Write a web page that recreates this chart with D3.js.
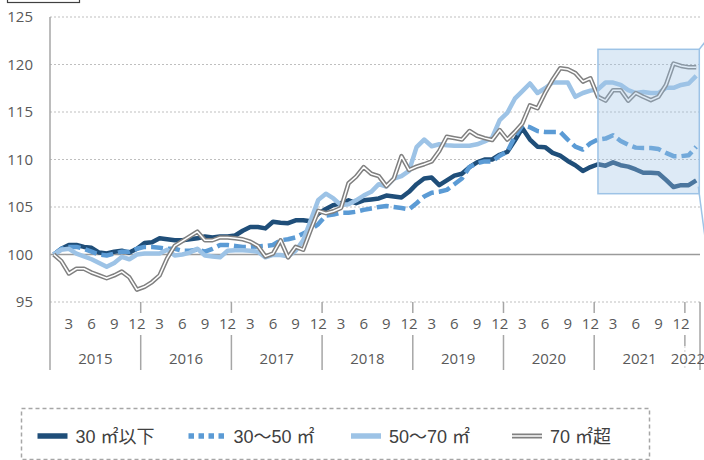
<!DOCTYPE html>
<html>
<head>
<meta charset="utf-8">
<script src="https://cdn.jsdelivr.net/npm/d3@7"></script>
<style>
  body { margin: 0; background: #fff; }
  svg { display: block; }
  .axis text { font-family: "Open Sans", "Liberation Sans", sans-serif; fill: #595959; }
  .legend text { font-family: "Liberation Sans", "Noto Sans CJK JP", sans-serif; fill: #404040; }
</style>
</head>
<body>
<svg id="chart" width="704" height="460"></svg>
<script>
// monthly index, Jan 2015 = 100
const years = [2015, 2016, 2017, 2018, 2019, 2020, 2021, 2022]
const monthsInYear = [12, 12, 12, 12, 12, 12, 12, 2]
const monthTicks = [3, 6, 9, 12]
const yTicks = [95, 100, 105, 110, 115, 120, 125]

const seriesNames = ['30 ㎡以下', '30～50 ㎡', '50～70 ㎡', '70 ㎡超']

const under30 = [
  100.0, 100.6, 101.0, 101.0, 100.8, 100.7, 100.2, 100.1, 100.3, 100.4, 100.2, 100.6,
  101.2, 101.3, 101.7, 101.6, 101.5, 101.5, 101.6, 101.7, 101.9, 101.8, 101.9, 101.9,
  102.0, 102.5, 102.9, 102.9, 102.75, 103.45, 103.35, 103.3, 103.6, 103.6, 103.5, 104.3,
  104.8, 105.2, 105.4, 105.7, 105.4, 105.7, 105.8, 105.9, 106.2, 106.1, 106.0, 106.6,
  107.4, 108.0, 108.1, 107.3, 107.8, 108.3, 108.5, 109.2, 109.7, 110.0, 110.0, 110.5,
  110.8, 112.0, 113.3, 112.1, 111.35, 111.3, 110.7, 110.4, 109.85, 109.4, 108.8, 109.2,
  109.5, 109.35, 109.7, 109.4, 109.25, 108.95, 108.6, 108.6, 108.55, 107.85, 107.1, 107.3,
  107.3, 107.8
]
const from30to50 = [
  100.0, 100.6, 100.8, 100.8, 100.6, 100.3, 100.0, 99.9, 100.1, 100.3, 100.3, 100.6,
  100.8, 100.8, 100.7, 100.6, 100.6, 100.4, 100.4, 100.5, 100.3, 100.6, 101.0, 101.0,
  100.9, 100.8, 100.8, 100.85, 100.9, 101.0, 101.5, 101.6, 101.8, 102.2, 102.6, 103.2,
  104.1, 104.2, 104.4, 104.4, 104.5, 104.7, 104.85, 105.0, 105.1, 105.0, 104.9, 104.75,
  105.4, 106.1, 106.5, 106.6, 106.8, 107.4, 108.0, 109.2, 109.6, 109.8, 109.8, 110.4,
  110.8, 112.4, 113.6, 113.4, 113.0, 112.9, 112.9, 112.9, 112.1, 111.35, 111.05, 111.7,
  112.1, 112.2, 112.55, 111.95, 111.55, 111.25, 111.2, 111.2, 111.1, 110.7, 110.35, 110.35,
  110.45, 111.35
]
const from50to70 = [
  100.0, 100.5, 100.6, 100.1, 99.8, 99.5, 99.1, 98.7, 99.1, 99.75, 99.5, 100.0,
  100.1, 100.1, 100.1, 100.5, 99.9, 100.0, 100.2, 100.6, 99.9, 99.8, 99.7, 100.4,
  100.45, 100.45, 100.4, 100.3, 99.7, 99.95, 99.95, 99.8, 100.4, 101.5, 103.6, 105.75,
  106.4, 105.9, 105.2, 105.3, 105.7, 106.2, 106.6, 107.4, 107.15, 108.0, 108.25, 108.8,
  111.3, 112.1, 111.4, 111.6, 111.5, 111.45, 111.45, 111.45, 111.6, 111.9, 112.3, 114.15,
  114.9, 116.4, 117.2, 118.0, 117.0, 117.5, 118.1, 118.1, 118.1, 116.6, 117.0, 117.25,
  117.4, 118.1, 118.1, 117.85, 117.3, 117.0, 117.1, 117.0, 117.0, 117.55, 117.55, 117.85,
  118.0, 118.8
]
const over70 = [
  100.0, 99.3, 98.0, 98.5, 98.5, 98.1, 97.8, 97.5, 97.8, 98.2, 97.6, 96.3,
  96.6, 97.1, 97.8, 99.6, 100.9, 101.4, 101.9, 102.4, 101.5, 101.5, 101.8, 101.8,
  101.7, 101.6, 101.35, 100.9, 99.8, 100.1, 101.5, 99.7, 100.8, 100.5, 102.6, 104.6,
  104.35, 104.55, 104.9, 107.5, 108.2, 109.2, 108.5, 108.25, 107.2, 108.0, 110.35, 108.9,
  109.25, 109.5, 109.8, 110.9, 112.4, 112.25, 112.1, 113.0, 112.5, 112.25, 112.05, 113.1,
  112.1, 112.9, 113.8, 115.7, 115.4, 117.0, 118.4, 119.6, 119.5, 119.1, 118.2, 118.55,
  116.6, 116.2, 117.3, 117.3, 116.2, 117.0, 116.6, 116.25, 116.6, 117.85, 120.1, 119.85,
  119.7, 119.7
]

// shaded box over the latest year
const highlight = { start: '2021-1', top: 121.6, bottom: 106.4 }

const categories = []
years.forEach((yr, k) => {
  for (let m = 1; m <= monthsInYear[k]; m++) categories.push(yr + '-' + m)
})

const svg = d3.select('#chart')
const x = d3.scaleBand().domain(categories).range([50, 700])
const y = d3.scaleLinear().domain([95, 125]).range([302, 17])
const cx = c => x(c) + x.bandwidth() / 2

// text box edge peeking in at the top
svg.append('rect').attr('x', 7.5).attr('y', -10).attr('width', 72).attr('height', 12.5)
  .attr('fill', 'none').attr('stroke', '#404040').attr('stroke-width', 1.2)

// gridlines
svg.append('g').selectAll('line')
  .data(yTicks.filter(v => v !== 100))
  .enter().append('line')
  .attr('x1', 50).attr('x2', 700)
  .attr('y1', v => y(v)).attr('y2', v => y(v))
  .attr('stroke', '#BFBFBF').attr('stroke-width', 1).attr('stroke-dasharray', '2,2')

svg.append('line').attr('x1', 50).attr('x2', 700).attr('y1', y(100)).attr('y2', y(100))
  .attr('stroke', '#9A9A9A').attr('stroke-width', 1.5)

// y axis
const yAxis = svg.append('g').attr('class', 'axis')
  .attr('transform', 'translate(50,0)')
  .call(d3.axisLeft(y).tickValues(yTicks).tickSize(0).tickPadding(17))
yAxis.select('.domain').remove()
yAxis.selectAll('text').style('font-size', '15px')
svg.append('line').attr('x1', 50).attr('x2', 50).attr('y1', 17).attr('y2', 370)
  .attr('stroke', '#A6A6A6').attr('stroke-width', 1.5)

// month labels
const xAxis = svg.append('g').attr('class', 'axis')
  .attr('transform', 'translate(0,' + 318 + ')')
  .call(d3.axisBottom(x)
    .tickValues(categories.filter(c => monthTicks.includes(+c.split('-')[1])))
    .tickFormat(c => c.split('-')[1])
    .tickSize(0).tickPadding(0))
xAxis.select('.domain').remove()
xAxis.selectAll('text').style('font-size', '15px')

// year groups
const yearStarts = years.map(yr => x(yr + '-1'))
const sep = svg.append('g')
years.forEach((yr, k) => {
  if (k === 0) return
  const xs = yearStarts[k]
  sep.append('line').attr('x1', xs).attr('x2', xs).attr('y1', 302).attr('y2', 313)
    .attr('stroke', '#A6A6A6').attr('stroke-width', 1.5)
  const last = k === years.length - 1
  sep.append('line').attr('x1', xs).attr('x2', xs).attr('y1', 335).attr('y2', last ? 346 : 370)
    .attr('stroke', '#A6A6A6').attr('stroke-width', 1.5)
  if (last) {
    sep.append('line').attr('x1', xs).attr('x2', xs).attr('y1', 346).attr('y2', 370)
      .attr('stroke', '#D0D0D0').attr('stroke-width', 1).attr('stroke-dasharray', '2,2')
  }
})
sep.append('line').attr('x1', 700).attr('x2', 700).attr('y1', 302).attr('y2', 370)
  .attr('stroke', '#A6A6A6').attr('stroke-width', 1.5)

svg.append('g').attr('class', 'axis').selectAll('text')
  .data(years)
  .enter().append('text')
  .attr('x', (yr, k) => {
    const x0 = yearStarts[k]
    const x1 = k < years.length - 1 ? yearStarts[k + 1] : 700
    return k < years.length - 1 ? (x0 + x1) / 2 : x0 + 3
  })
  .attr('y', 364)
  .attr('text-anchor', (yr, k) => k < years.length - 1 ? 'middle' : 'middle')
  .style('font-size', '15px')
  .text(d => d)

// series
const line = d3.line().x((v, i) => cx(categories[i])).y(v => y(v))
const plot = svg.append('g').attr('fill', 'none').attr('stroke-linejoin', 'round')

plot.append('path').datum(under30).attr('d', line)
  .attr('stroke', '#1F4E79').attr('stroke-width', 4.5)
plot.append('path').datum(from30to50).attr('d', line)
  .attr('stroke', '#5B9BD5').attr('stroke-width', 4.5).attr('stroke-dasharray', '12,5')
plot.append('path').datum(from50to70).attr('d', line)
  .attr('stroke', '#9DC3E6').attr('stroke-width', 4.5)
plot.append('path').datum(over70).attr('d', line)
  .attr('stroke', '#808080').attr('stroke-width', 4.5)
plot.append('path').datum(over70).attr('d', line)
  .attr('stroke', '#FFFFFF').attr('stroke-width', 1.5)

// highlight box + callout lines
const hx0 = cx(highlight.start)
const hx1 = x.range()[1] - 0.7
svg.append('rect')
  .attr('x', hx0).attr('y', y(highlight.top))
  .attr('width', hx1 - hx0).attr('height', y(highlight.bottom) - y(highlight.top))
  .attr('fill', '#9DC3E6').attr('fill-opacity', 0.35)
  .attr('stroke', '#9DC3E6').attr('stroke-width', 1.5)
svg.append('line').attr('x1', hx1).attr('y1', y(highlight.top)).attr('x2', hx1 + 10).attr('y2', y(highlight.top) - 13)
  .attr('stroke', '#9DC3E6').attr('stroke-width', 1.5)
svg.append('line').attr('x1', hx1 - 1).attr('y1', y(highlight.bottom) - 7).attr('x2', hx1 + 6).attr('y2', y(highlight.bottom) + 46)
  .attr('stroke', '#9DC3E6').attr('stroke-width', 1.5)

// legend
const legend = svg.append('g').attr('class', 'legend')
legend.append('rect').attr('x', 21.5).attr('y', 408.5).attr('width', 628).attr('height', 51)
  .attr('fill', 'none').attr('stroke', '#A6A6A6').attr('stroke-width', 1.5).attr('stroke-dasharray', '4,3')

const legendX = [37.5, 188.5, 351, 512]
const legendStyles = [
  { stroke: '#1F4E79', dash: null },
  { stroke: '#5B9BD5', dash: '5.5,4.5' },
  { stroke: '#9DC3E6', dash: null },
  { stroke: '#808080', dash: null, inner: true }
]
seriesNames.forEach((name, k) => {
  const g = legend.append('g').attr('transform', 'translate(' + legendX[k] + ',436)')
  const st = legendStyles[k]
  g.append('line').attr('x1', 0).attr('x2', k === 1 ? 37 : 30).attr('y1', 0).attr('y2', 0)
    .attr('stroke', st.stroke).attr('stroke-width', st.inner ? 5 : 5.5)
    .attr('stroke-dasharray', st.dash)
  if (st.inner) {
    g.append('line').attr('x1', 0).attr('x2', 30).attr('y1', 0).attr('y2', 0)
      .attr('stroke', '#fff').attr('stroke-width', 1.5)
  }
  g.append('text').attr('x', k === 1 ? 45 : 38).attr('y', 7)
    .style('font-size', '18px').text(name)
})
</script>
</body>
</html>
